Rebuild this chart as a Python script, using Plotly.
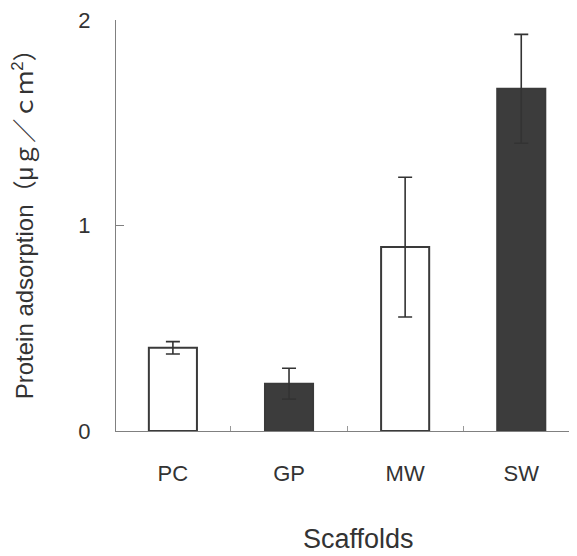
import plotly.graph_objects as go

categories = ["PC", "GP", "MW", "SW"]
values = [0.405, 0.23, 0.895, 1.665]
errors = [0.03, 0.075, 0.34, 0.265]
fills = ["#ffffff", "#3c3c3c", "#ffffff", "#3c3c3c"]

FONT = "Liberation Sans, Arial, Noto Sans CJK JP, sans-serif"

# page body has an 8px margin, so the figure is sized to fit the window
W, H = 569, 548
fig = go.Figure()
fig.add_trace(go.Bar(
    x=categories, y=values, width=0.414,
    marker=dict(color=fills, line=dict(color="#3a3a3a", width=2)),
    error_y=dict(type="data", array=errors, visible=True,
                 color="#333333", thickness=1.6, width=7),
    showlegend=False,
))

fig.update_layout(
    width=W, height=H,
    margin=dict(l=108, r=0, t=7, b=125),
    paper_bgcolor="white", plot_bgcolor="white",
    font=dict(family=FONT, color="#333333"),
    xaxis=dict(
        type="category", range=[-0.49, 3.48],
        showline=True, linecolor="#808080", linewidth=1,
        ticks="inside", ticklen=5, tickcolor="#999999",
        tickson="boundaries", showgrid=False,
        tickfont=dict(size=22, color="#333333"),
        ticklabelstandoff=23,
    ),
    yaxis=dict(
        range=[0, 2], tickvals=[0, 1, 2], ticktext=["0", "1", "2"],
        showline=True, linecolor="#808080", linewidth=1,
        ticks="inside", ticklen=8, tickcolor="#808080",
        showgrid=False, zeroline=False,
        tickfont=dict(size=22, color="#333333"),
        ticklabelstandoff=20, ticklabeloverflow="allow",
    ),
    annotations=[
        dict(text="Protein adsorption（μｇ／ｃｍ<sup>2</sup>）", textangle=-90,
             xref="paper", yref="paper", x=-0.2, y=0.517,
             xanchor="center", yanchor="middle", showarrow=False,
             font=dict(size=24, color="#333333", family=FONT)),
        dict(text="Scaffolds",
             xref="paper", yref="paper", x=0.527, y=-0.262,
             xanchor="center", yanchor="middle", showarrow=False,
             font=dict(size=27, color="#333333", family=FONT)),
    ],
)

fig.write_html("out.html")
